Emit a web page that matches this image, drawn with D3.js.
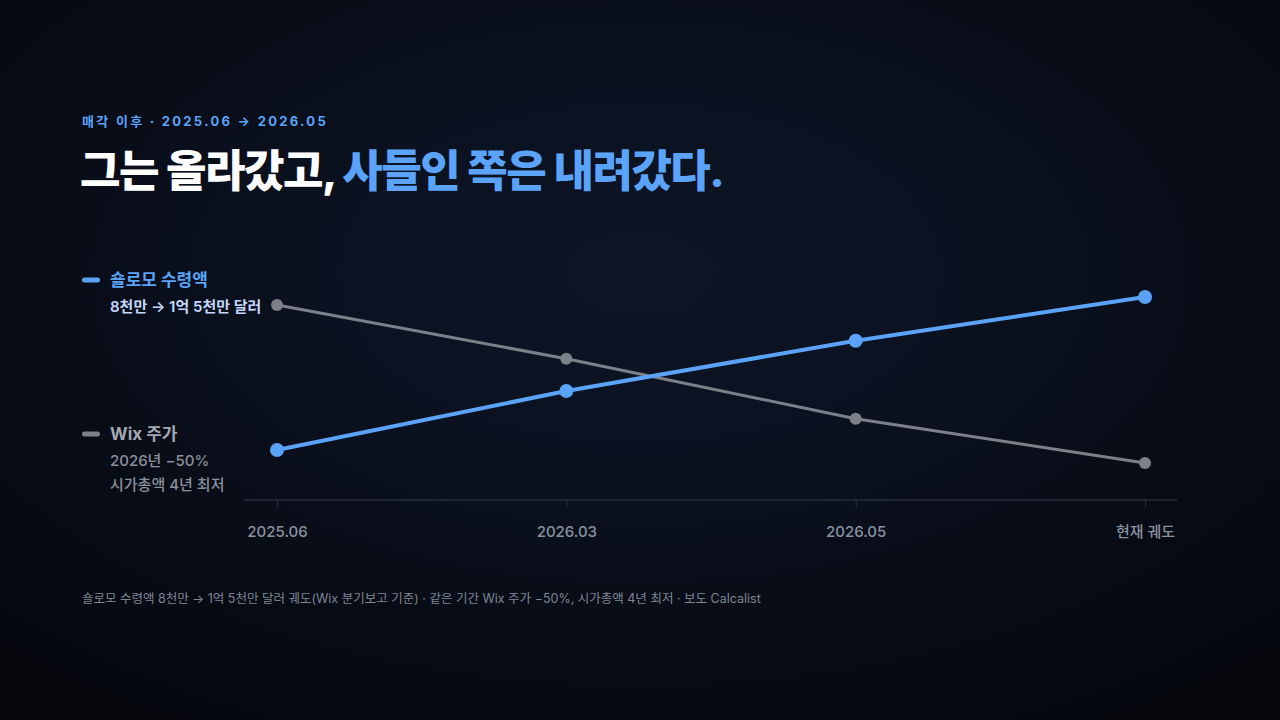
<!DOCTYPE html>
<html><head><meta charset="utf-8">
<script src="https://cdn.jsdelivr.net/npm/d3@7/dist/d3.min.js"></script>
<style>
html,body{margin:0;padding:0;background:#06080e;}
svg{display:block;font-family:"Inter","Noto Sans CJK KR",sans-serif;}
</style></head>
<body>
<svg id="c" width="1280" height="720"></svg>
<script>
const categories = ["2025.06", "2026.03", "2026.05", "현재 궤도"];
const payoutValues = [80, 107, 130, 150];      // 숄로모 수령액 (백만 달러, 추정)
const stockIndex = [100, 83, 64, 50];           // Wix 주가 (2025.06 = 100, 추정)
const eyebrow = "매각 이후 · 2025.06 → 2026.05";
const titleWhite = "그는 올라갔고, ";
const titleBlue = "사들인 쪽은 내려갔다.";
const footnote = "숄로모 수령액 8천만 → 1억 5천만 달러 궤도(Wix 분기보고 기준) · 같은 기간 Wix 주가 −50%, 시가총액 4년 최저 · 보도 Calcalist";

const W = 1280, H = 720;
const blue = "#5ba3f8", gray = "#7b8089";
const svg = d3.select("#c");

const defs = svg.append("defs");
const rg = defs.append("radialGradient").attr("id","bg").attr("cx","50%").attr("cy","38%").attr("r","75%");
rg.append("stop").attr("offset","0%").attr("stop-color","#0d1628");
rg.append("stop").attr("offset","55%").attr("stop-color","#090e1a");
rg.append("stop").attr("offset","100%").attr("stop-color","#05070c");
svg.append("rect").attr("width",W).attr("height",H).attr("fill","url(#bg)");

// header
svg.append("text").attr("x",82).attr("y",126).attr("fill",blue)
  .attr("font-size",13).attr("font-weight",700).attr("letter-spacing","2.3px").text(eyebrow);
const t = svg.append("text").attr("x",80).attr("y",187).attr("font-size",44).attr("font-weight",800)
  .attr("letter-spacing","-1.5px");
t.append("tspan").attr("fill","#ffffff").text(titleWhite);
t.append("tspan").attr("fill",blue).text(titleBlue);

// scales
const x = d3.scalePoint().domain(categories).range([277,1145]);
const yPay = d3.scaleLinear().domain([80,150]).range([450,297]);
const yStock = d3.scaleLinear().domain([50,100]).range([463,305]);

// axis
const axisY = 500;
const ax = svg.append("g").attr("transform",`translate(0,${axisY})`)
  .call(d3.axisBottom(x).tickSize(7).tickPadding(19));
ax.select(".domain").remove();
ax.selectAll(".tick line").attr("stroke","#2b3240").attr("stroke-width",1);
ax.selectAll(".tick text").attr("fill","#8a92a0").attr("font-size",15).attr("font-weight",500)
  .attr("font-family",'"Inter","Noto Sans CJK KR",sans-serif');
svg.append("line").attr("x1",244).attr("x2",1177).attr("y1",axisY).attr("y2",axisY)
  .attr("stroke","#272e3b").attr("stroke-width",1.5);

// gray line
const grayData = categories.map((c,i)=>({c,v:stockIndex[i]}));
svg.append("path").datum(grayData)
  .attr("d",d3.line().x(d=>x(d.c)).y(d=>yStock(d.v)))
  .attr("fill","none").attr("stroke",gray).attr("stroke-width",3);
svg.selectAll("circle.g").data(grayData).enter().append("circle")
  .attr("cx",d=>x(d.c)).attr("cy",d=>yStock(d.v)).attr("r",6).attr("fill",gray);

// blue line
const blueData = categories.map((c,i)=>({c,v:payoutValues[i]}));
svg.append("path").datum(blueData)
  .attr("d",d3.line().x(d=>x(d.c)).y(d=>yPay(d.v)))
  .attr("fill","none").attr("stroke",blue).attr("stroke-width",4);
svg.selectAll("circle.b").data(blueData).enter().append("circle")
  .attr("cx",d=>x(d.c)).attr("cy",d=>yPay(d.v)).attr("r",7).attr("fill",blue);

// legend
function legend(y, swatch, color, title, lines, subColor){
  svg.append("rect").attr("x",82).attr("y",y-2.5).attr("width",18).attr("height",5).attr("rx",2.5).attr("fill",swatch);
  svg.append("text").attr("x",110).attr("y",y+6).attr("fill",color).attr("font-size",17).attr("font-weight",700).text(title);
  lines.forEach((l,i)=>{
    svg.append("text").attr("x",110).attr("y",y+32+i*24).attr("fill",subColor)
      .attr("font-size",15).attr("font-weight",swatch===blue?600:500).text(l);
  });
}
legend(280, blue, blue, "숄로모 수령액", ["8천만 → 1억 5천만 달러"], "#c5d8fb");
legend(434, gray, "#a3a8b1", "Wix 주가", ["2026년 −50%", "시가총액 4년 최저"], "#8a909a");

// footnote
svg.append("text").attr("x",82).attr("y",603).attr("fill","#7f8794").attr("font-size",12.5).text(footnote);
</script>
</body></html>
